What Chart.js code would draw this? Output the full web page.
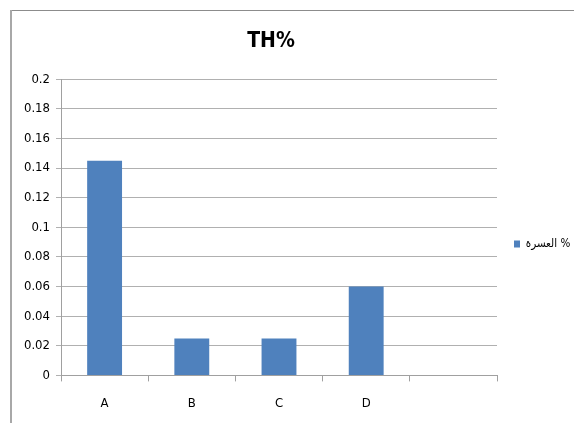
<!DOCTYPE html>
<html lang="en-US">
<head>
<meta charset="UTF-8">
<title>TH%</title>
<script src="https://cdn.jsdelivr.net/npm/chart.js@4.4.0/dist/chart.umd.min.js"></script>
<style>
    html, body { margin: 0; padding: 0; background: #fff; overflow: hidden; }
    canvas { display: block; }
</style>
</head>
<body>
<canvas id="myChart" width="574" height="423"></canvas>

<script>
    // chart data
    var categories = ['A', 'B', 'C', 'D', ''];
    var hardness = [0.145, 0.025, 0.025, 0.06, null];
    var seriesName = 'العسرة %';
    var titleText = 'TH%';

    var fontFamily = "'DejaVu Sans Condensed', 'Liberation Sans', Arial, sans-serif";

    // excel-like placement: title a bit left of centre, legend level with middle of the plot
    var boxPlace = {
        id: 'boxPlace',
        afterLayout: function (chart) {
            var lg = chart.legend, ca = chart.chartArea, tb = chart.titleBlock;
            var w = lg.right - lg.left, h = lg.bottom - lg.top;
            lg.left = ca.right + 5;
            lg.right = lg.left + w;
            var mid = 244;
            lg.top = mid - h / 2;
            lg.bottom = mid + h / 2;
            tb.left = 61;
            tb.right = 481;
            tb.width = tb.right - tb.left;
        },
        // the chart frame, only the top and left edges are on the picture
        beforeDraw: function (chart) {
            var c = chart.ctx;
            c.save();
            c.strokeStyle = '#8c8c8c';
            c.lineWidth = 1;
            c.beginPath();
            c.moveTo(10, 10.5);
            c.lineTo(chart.width, 10.5);
            c.stroke();
            c.strokeStyle = '#a8a8a8';
            c.lineWidth = 2;
            c.beginPath();
            c.moveTo(11, 10);
            c.lineTo(11, chart.height);
            c.stroke();
            c.restore();
        }
    };

    var ctx = document.getElementById('myChart').getContext('2d');
    var myChart = new Chart(ctx, {
        type: 'bar',
        data: {
            labels: categories,
            datasets: [{
                label: seriesName,
                data: hardness,
                backgroundColor: '#4f81bd',
                borderWidth: 0,
                categoryPercentage: 1.0,
                barPercentage: 0.4
            }]
        },
        plugins: [boxPlace],
        options: {
            responsive: false,
            animation: false,
            layout: { padding: { left: 0, right: 0, top: 0, bottom: -2 } },
            plugins: {
                title: {
                    display: true,
                    text: titleText,
                    color: '#000',
                    font: { family: fontFamily, size: 21, weight: 'bold' },
                    padding: { top: 29, bottom: 25 }
                },
                legend: {
                    position: 'right',
                    maxWidth: 77,
                    labels: {
                        color: '#000',
                        font: { family: fontFamily, size: 11.5 },
                        boxWidth: 6,
                        boxHeight: 7,
                        padding: 12
                    }
                },
                tooltip: { enabled: false }
            },
            scales: {
                x: {
                    grid: {
                        offset: true,
                        drawOnChartArea: false,
                        color: '#a0a0a0',
                        tickLength: 6
                    },
                    border: { color: '#a0a0a0', width: 1 },
                    ticks: {
                        color: '#000',
                        font: { family: fontFamily, size: 13 },
                        padding: 14,
                        maxRotation: 0
                    }
                },
                y: {
                    min: 0,
                    max: 0.2,
                    afterFit: function (scale) { scale.width = 61; },
                    grid: { color: '#b0b0b0', tickLength: 5 },
                    border: { color: '#a0a0a0', width: 1 },
                    ticks: {
                        stepSize: 0.02,
                        color: '#000',
                        font: { family: fontFamily, size: 13 },
                        padding: 6,
                        callback: function (v) { return String(+v.toFixed(2)); }
                    }
                }
            }
        }
    });
</script>
</body>
</html>
